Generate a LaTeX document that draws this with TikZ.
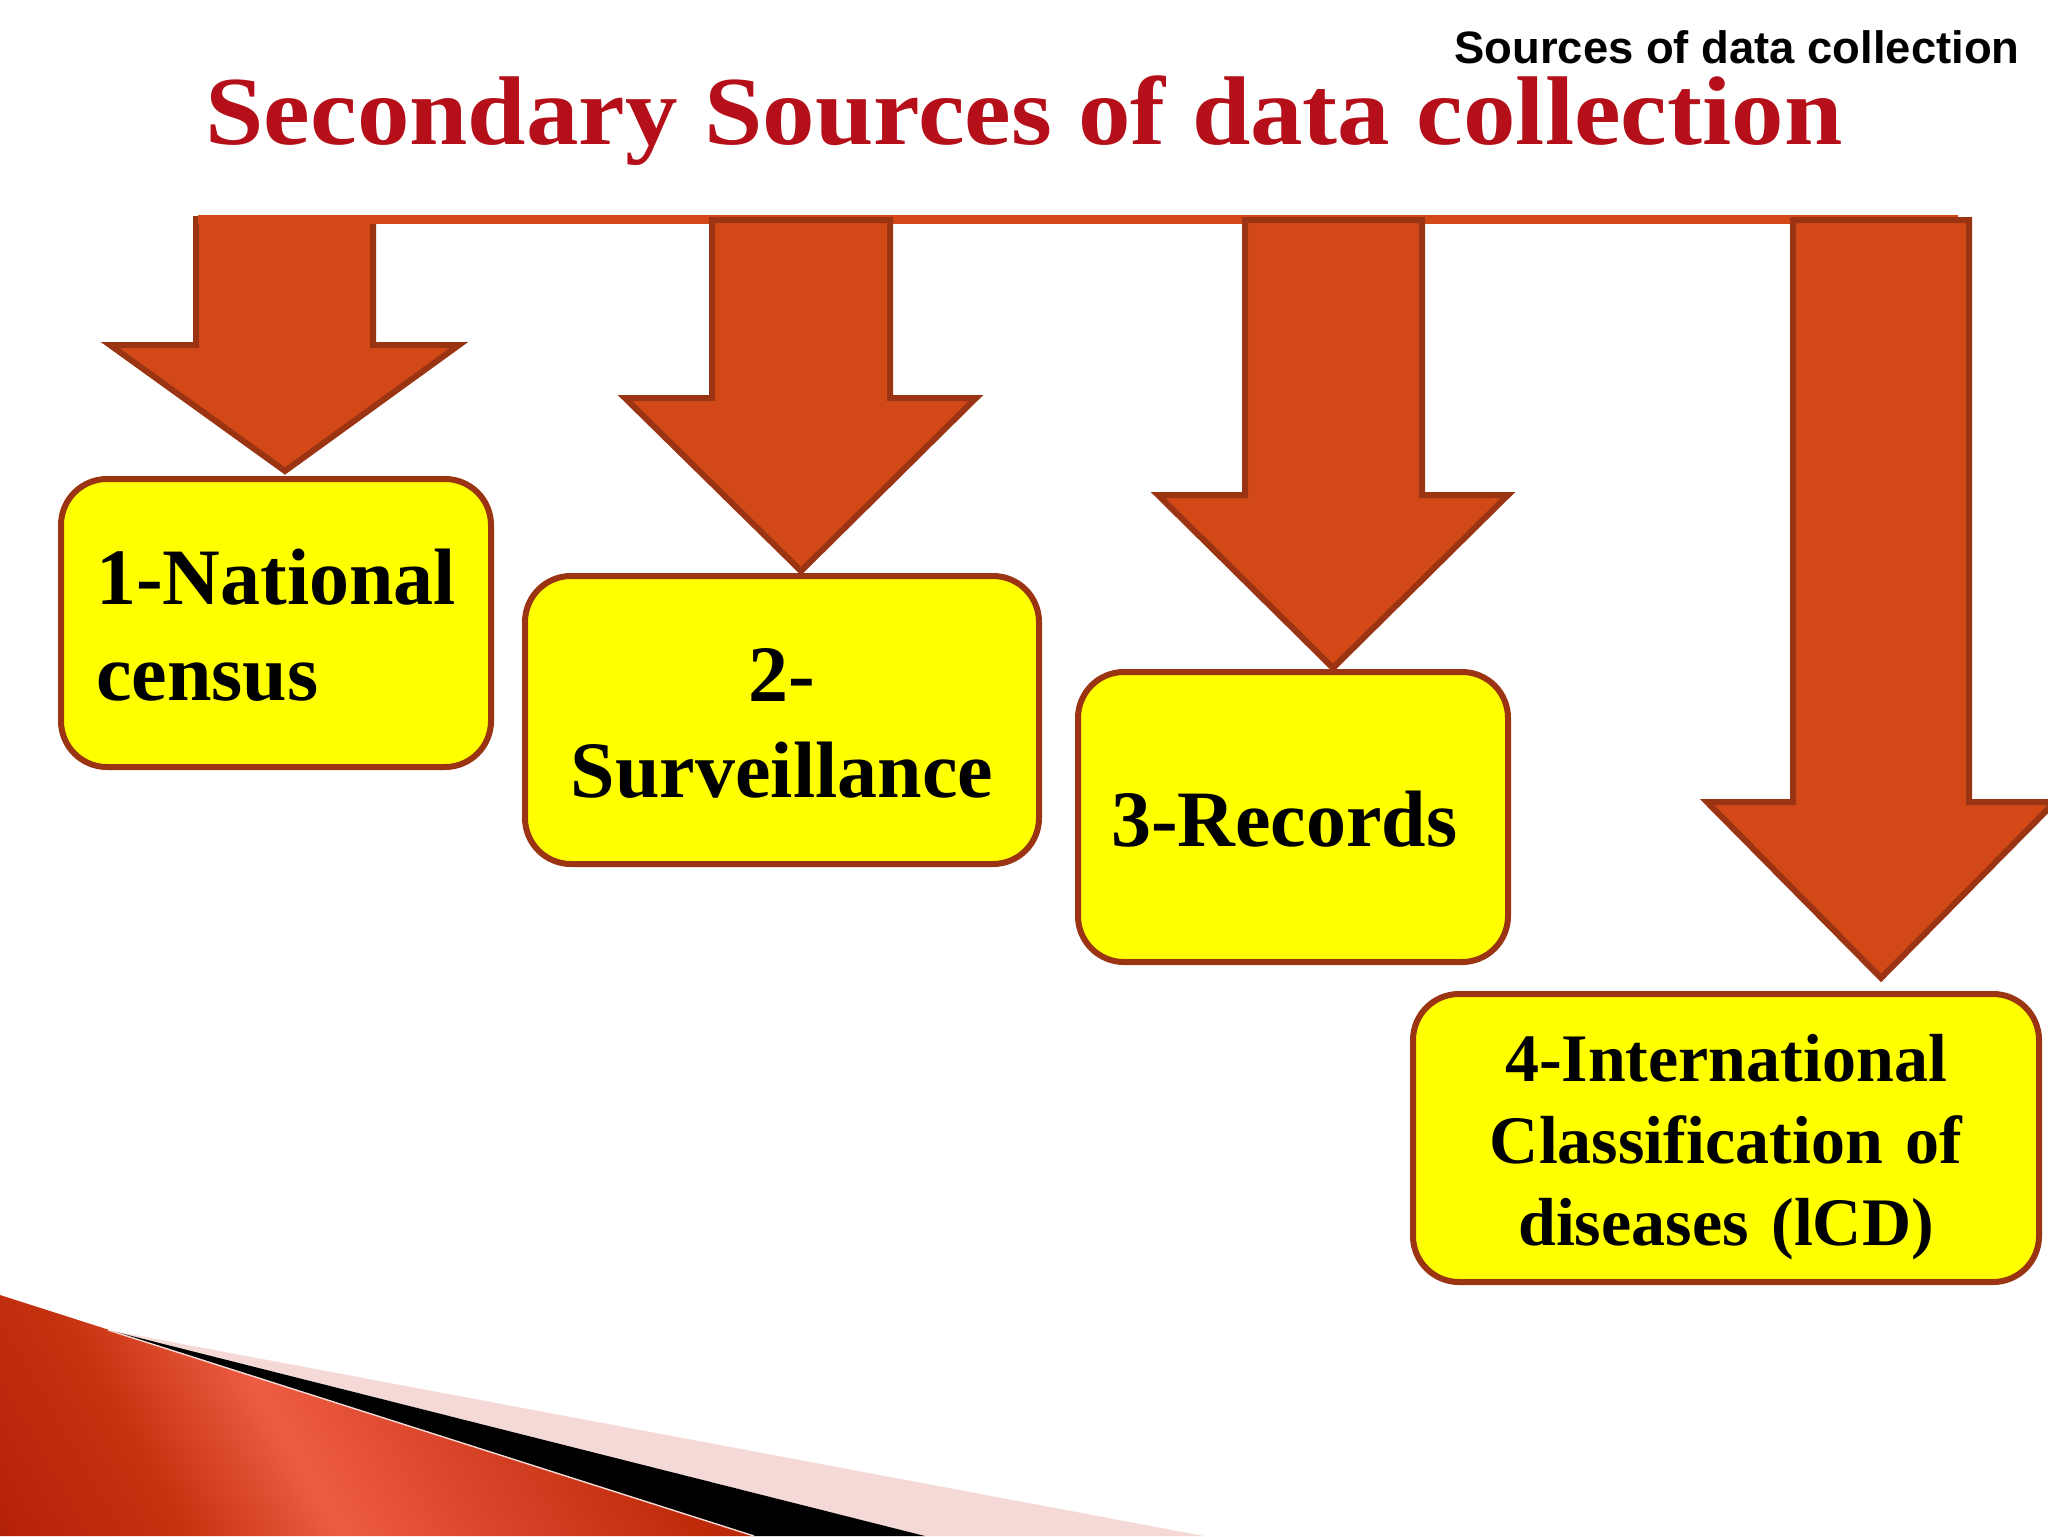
\documentclass[tikz,border=0pt]{standalone}
\usepackage{fontspec}
\setmainfont{Liberation Serif}
\setsansfont{Liberation Sans}
\definecolor{arrowfill}{HTML}{D34817}
\definecolor{arrowline}{HTML}{9A3412}
\definecolor{boxfill}{HTML}{FFFF00}
\definecolor{titlered}{HTML}{B5101A}
\definecolor{wedgepink}{HTML}{F4D9D7}
\definecolor{redA}{HTML}{8A1000}
\definecolor{redB}{HTML}{A01800}
\definecolor{redC}{HTML}{B8240A}
\definecolor{redD}{HTML}{C4320F}
\definecolor{redE}{HTML}{EE5C42}
\definecolor{redF}{HTML}{D8452A}
\definecolor{redG}{HTML}{BE2A08}
\pgfdeclarehorizontalshading{wedgered}{100bp}{
  color(0bp)=(redA);
  color(10bp)=(redB);
  color(18bp)=(redC);
  color(30bp)=(redD);
  color(42bp)=(redE);
  color(54bp)=(redF);
  color(70bp)=(redG);
  color(100bp)=(redA)
}
\tikzset{
    blockarrow/.style={fill=arrowfill, draw=arrowline, line width=3pt, line join=miter},
    bigbox/.style={draw=arrowline, fill=boxfill, line width=3pt, rounded corners=23pt, font=\bfseries\fontsize{40}{48}\selectfont, inner sep=0pt, text=black, text height=29.5pt},
    smallbox/.style={bigbox, font=\bfseries\fontsize{34}{41}\selectfont, text height=33pt}
}
\begin{document}
\begin{tikzpicture}[x=0.5pt, y=-0.5pt]
    \useasboundingbox (0,0) rectangle (2048,1536);

    % wedge in the corner
    \fill[wedgepink] (108,1330) -- (1204,1536) -- (925,1536) -- cycle;
    \fill[black] (108,1330) -- (925,1536) -- (754,1536) -- cycle;
    \shade[shading=wedgered, shading angle=30] (0,1295) -- (754,1536) -- (0,1536) -- cycle;
    \draw[wedgepink, line width=0.7pt] (108,1330) -- (754,1536);

    % title
    \node[anchor=base west, font=\bfseries\fontsize{52.5}{60}\selectfont, text=titlered, inner sep=0pt] (title) at (205,144) {\scalebox{1}[0.93]{Secondary Sources of data collection}};
    \node[anchor=base east, font=\sffamily\bfseries\fontsize{22.7}{26}\selectfont, inner sep=0pt] (tag) at (2020,64) {Sources of data collection};

    % arrows
    \draw[blockarrow] (196,219) -- (373,219) -- (373,345) -- (459,345) -- (285,471) -- (110,345) -- (196,345) -- cycle;
    \fill[arrowfill] (198,215) rectangle (1958,224);
    \draw[blockarrow] (712,220) -- (890,220) -- (890,398) -- (976,398) -- (801,571) -- (625,398) -- (712,398) -- cycle;
    \draw[blockarrow] (1245,220) -- (1422,220) -- (1422,495) -- (1508,495) -- (1333,668) -- (1158,495) -- (1245,495) -- cycle;
    \draw[blockarrow] (1793,220) -- (1969,220) -- (1969,802) -- (2055,802) -- (1881,978) -- (1707,802) -- (1793,802) -- cycle;

    % boxes
    \node[bigbox, minimum width=215pt, minimum height=144pt, text width=180pt, align=left] (census) at (276,623) {1-National\\census};
    \node[bigbox, minimum width=257pt, minimum height=144pt, text width=230pt, align=center] (surveillance) at (782,720) {2-\\Surveillance};
    \node[bigbox, minimum width=215pt, minimum height=145pt, text width=182pt, align=left] (records) at (1293,817) {3-Records};
    \node[smallbox, minimum width=313pt, minimum height=144pt, text width=290pt, align=center] (icd) at (1726,1138) {4-International\\Classification of\\diseases (lCD)};
\end{tikzpicture}
\end{document}
